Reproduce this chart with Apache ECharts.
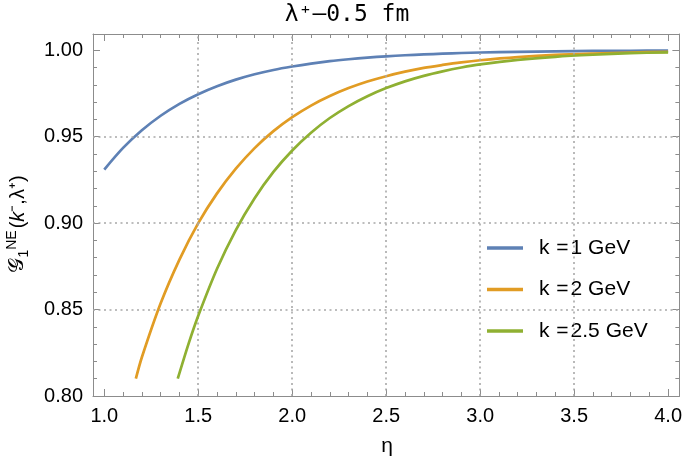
<!DOCTYPE html>
<html>
<head>
<meta charset="utf-8">
<script src="https://cdn.jsdelivr.net/npm/echarts@6/dist/echarts.min.js"></script>
<style>html,body{margin:0;padding:0;background:#fff}#c{width:685px;height:464px}</style>
</head>
<body>
<div id="c"></div>
<script>
// ---- data ----
const seriesNames = ['k =1 GeV', 'k =2 GeV', 'k =2.5 GeV'];
const etaK1 = [1.0, 1.1, 1.2, 1.3, 1.4, 1.5, 1.6, 1.7, 1.8, 1.9, 2.0, 2.1, 2.2, 2.3, 2.4, 2.5, 2.6, 2.7, 2.8, 2.9, 3.0, 3.2, 3.4, 3.6, 3.8, 4.0];
const gK1   = [0.9310, 0.9435, 0.9537, 0.9621, 0.9690, 0.9746, 0.9792, 0.9830, 0.9861, 0.9886, 0.9906, 0.9923, 0.9937, 0.9948, 0.9957, 0.9965, 0.9971, 0.9976, 0.9980, 0.9984, 0.9987, 0.9991, 0.9994, 0.9996, 0.9997, 0.9998];
const etaK2 = [1.168, 1.2, 1.3, 1.4, 1.5, 1.6, 1.7, 1.8, 1.9, 2.0, 2.1, 2.2, 2.3, 2.4, 2.5, 2.6, 2.7, 2.8, 2.9, 3.0, 3.2, 3.4, 3.6, 3.8, 4.0];
const gK2   = [0.8100, 0.8224, 0.8536, 0.8789, 0.9000, 0.9172, 0.9315, 0.9434, 0.9532, 0.9613, 0.9680, 0.9735, 0.9781, 0.9819, 0.9850, 0.9876, 0.9898, 0.9915, 0.9930, 0.9942, 0.9960, 0.9973, 0.9981, 0.9987, 0.9991];
const etaK25 = [1.391, 1.45, 1.5, 1.6, 1.7, 1.8, 1.9, 2.0, 2.1, 2.2, 2.3, 2.4, 2.5, 2.6, 2.7, 2.8, 2.9, 3.0, 3.2, 3.4, 3.6, 3.8, 4.0];
const gK25   = [0.8100, 0.8307, 0.8464, 0.8736, 0.8960, 0.9144, 0.9296, 0.9420, 0.9523, 0.9608, 0.9677, 0.9734, 0.9781, 0.9820, 0.9852, 0.9878, 0.9900, 0.9918, 0.9944, 0.9962, 0.9974, 0.9983, 0.9988];
const xTickLabels = [1.0, 1.5, 2.0, 2.5, 3.0, 3.5, 4.0];
const yTickLabels = [0.80, 0.85, 0.90, 0.95, 1.00];
const xGridValues = [1.5, 2.0, 2.5, 3.0, 3.5];
const yGridValues = [0.85, 0.90, 0.95];
const titleText = 'λ⁺–0.5 fm';
const xName = 'η';

// minor tick positions
const xMinor = []; for (let i = 0; i <= 30; i++) xMinor.push(+(1 + 0.1 * i).toFixed(1));
const yMinor = []; for (let i = 0; i <= 20; i++) yMinor.push(+(0.8 + 0.01 * i).toFixed(2));

const X_MIN = 0.94, X_MAX = 4.06, Y_MIN = 0.80, Y_MAX = 1.0094;
const frameColor = '#8c8c8c';
const colors = ['#5E81B5', '#E19C24', '#8FB032'];
const font = 'Liberation Sans, Arial, sans-serif';

function xAxisDef(position, ticks, len, labels, line) {
  return {
    type: 'value', position, min: X_MIN, max: X_MAX,
    axisLine: { show: line, onZero: false, lineStyle: { color: frameColor, width: 1 } },
    axisTick: { show: true, inside: true, length: len, customValues: ticks, lineStyle: { color: frameColor, width: 1 } },
    axisLabel: labels ? { show: true, customValues: xTickLabels, formatter: v => (+v).toFixed(1), color: '#000', fontSize: 20, fontFamily: font, margin: 10 } : { show: false },
    splitLine: { show: false }
  };
}
function yAxisDef(position, ticks, len, labels, line) {
  return {
    type: 'value', position, min: Y_MIN, max: Y_MAX,
    axisLine: { show: line, onZero: false, lineStyle: { color: frameColor, width: 1 } },
    axisTick: { show: true, inside: true, length: len, customValues: ticks, lineStyle: { color: frameColor, width: 1 } },
    axisLabel: labels ? { show: true, customValues: yTickLabels, formatter: v => (+v).toFixed(2), color: '#000', fontSize: 20, fontFamily: font, margin: 10 } : { show: false },
    splitLine: { show: false }
  };
}

const lineSeries = [[etaK1, gK1], [etaK2, gK2], [etaK25, gK25]].map((d, i) => ({
  name: seriesNames[i], type: 'line', xAxisIndex: 0, yAxisIndex: 0,
  data: d[0].map((x, j) => [x, d[1][j]]),
  showSymbol: false, smooth: 0.3, z: 3 + i,
  lineStyle: { color: colors[i], width: 2.7, join: 'round', cap: 'butt' }, itemStyle: { color: colors[i] }
}));

const gridSeries = {
  type: 'line', xAxisIndex: 0, yAxisIndex: 0, data: [], z: 1, silent: true,
  markLine: {
    silent: true, symbol: ['none', 'none'], animation: false,
    label: { show: false },
    lineStyle: { color: '#a8a8a8', type: [2, 3.5], width: 1.6 },
    data: xGridValues.map(v => ({ xAxis: v })).concat(yGridValues.map(v => ({ yAxis: v })))
  }
};

const chart = echarts.init(document.getElementById('c'), null, { renderer: 'canvas' });
chart.setOption({
  animation: false,
  backgroundColor: '#fff',
  grid: { left: 93, right: 4, top: 34, bottom: 68, containLabel: false },
  xAxis: [
    xAxisDef('bottom', xTickLabels, 7, true, true),
    xAxisDef('bottom', xMinor, 4, false, false),
    xAxisDef('top', xTickLabels, 7, false, true),
    xAxisDef('top', xMinor, 4, false, false)
  ],
  yAxis: [
    yAxisDef('left', yTickLabels, 7, true, true),
    yAxisDef('left', yMinor, 4, false, false),
    yAxisDef('right', yTickLabels, 7, false, true),
    yAxisDef('right', yMinor, 4, false, false)
  ],
  legend: {
    data: seriesNames, orient: 'vertical', left: 482, top: 232,
    itemWidth: 36, itemHeight: 3.5, itemGap: 19.5, icon: 'rect',
    formatter: name => { const p = name.split('='); return '{a|' + p[0] + '}{e|=}{b|' + p[1] + '}'; },
    textStyle: {
      fontFamily: font, fontSize: 21, color: '#000', lineHeight: 22,
      rich: {
        a: { fontFamily: font, fontSize: 21, color: '#000', padding: [0, 0, 0, 11] },
        e: { fontFamily: font, fontSize: 21, color: '#000', padding: [0, 2, 0, 1] },
        b: { fontFamily: font, fontSize: 21, color: '#000' }
      }
    }
  },
  graphic: [
    { type: 'text', x: 347, y: 15, style: { text: titleText, fontFamily: 'DejaVu Sans Mono, monospace', fontSize: 23, fill: '#000', align: 'center', verticalAlign: 'middle' } },
    { type: 'text', x: 387, y: 446, style: { text: xName, fontFamily: font, fontSize: 21, fill: '#000', align: 'center', verticalAlign: 'middle' } },
    { type: 'text', x: 18, y: 224, rotation: Math.PI / 2,
      style: {
        text: '{g|𝒢}{s|1}{p|NE}{t|(}{k|k}{m|⁻}{t|,λ⁺)}',
        align: 'center', verticalAlign: 'middle',
        rich: {
          g: { fontFamily: 'DejaVu Serif, serif', fontSize: 21, fill: '#000', lineHeight: 26, verticalAlign: 'middle' },
          s: { fontFamily: font, fontSize: 14, fill: '#000', verticalAlign: 'bottom', lineHeight: 26 },
          p: { fontFamily: font, fontSize: 14, fill: '#000', verticalAlign: 'top', lineHeight: 26, padding: [0, 2, 0, 0] },
          t: { fontFamily: font, fontSize: 20, fill: '#000', verticalAlign: 'middle', lineHeight: 26 },
          k: { fontFamily: font, fontSize: 20, fontStyle: 'italic', fill: '#000', verticalAlign: 'middle', lineHeight: 26 },
          m: { fontFamily: font, fontSize: 20, fill: '#000', verticalAlign: 'middle', lineHeight: 26 }
        }
      }
    }
  ],
  series: [gridSeries].concat(lineSeries)
});
</script>
</body>
</html>
